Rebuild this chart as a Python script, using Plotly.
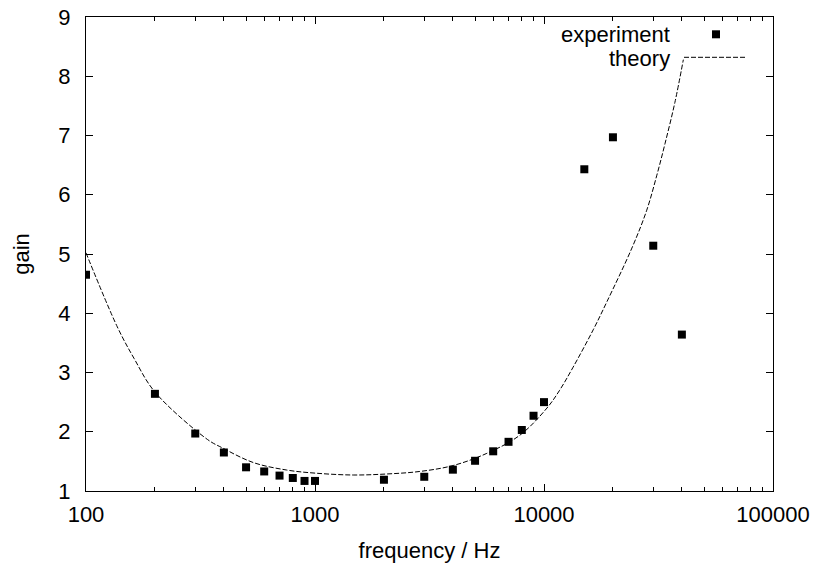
import plotly.graph_objects as go

# experiment data
exp_freq = [100, 200, 300, 400, 500, 600, 700, 800, 900, 1000, 2000, 3000, 4000,
            5000, 6000, 7000, 8000, 9000, 10000, 15000, 20000, 30000, 40000]
exp_gain = [4.65, 2.64, 1.97, 1.65, 1.40, 1.33, 1.26, 1.22, 1.17, 1.17, 1.19, 1.24, 1.36,
            1.51, 1.67, 1.83, 2.03, 2.27, 2.50, 6.43, 6.97, 5.14, 3.64]

# theory curve
th_freq = [100, 137, 162, 200, 339, 393, 538, 752, 1015, 1468, 2050, 2870, 4010,
           5630, 7860, 10300, 11700, 13400, 16400, 18800, 24200, 28100, 31100, 33800,
           37300, 40600]
th_gain = [5.02, 3.77, 3.24, 2.67, 1.87, 1.73, 1.48, 1.354, 1.30, 1.27, 1.287, 1.33, 1.43,
           1.636, 1.944, 2.40, 2.70, 3.09, 3.72, 4.19, 5.10, 5.74, 6.33, 6.87,
           7.56, 8.28]

legend_labels = ["experiment", "theory"]

FONT = "Liberation Sans, Arial, sans-serif"
FS = 22
W, H = 818, 568
L, R, T, B = 86, 45, 17, 77
PW, PH = W - L - R, H - T - B

def px(x):
    return (x - L) / PW

def py(y):
    return (T + PH - y) / PH

fig = go.Figure()
fig.add_trace(go.Scatter(
    x=th_freq, y=th_gain, mode="lines",
    line=dict(color="black", width=1, dash="5px,2px", shape="spline", smoothing=1),
    name=legend_labels[1], showlegend=False))
fig.add_trace(go.Scatter(
    x=exp_freq, y=exp_gain, mode="markers",
    marker=dict(symbol="square", size=8, color="black", line=dict(width=0)),
    name=legend_labels[0], showlegend=False))

axis_common = dict(
    showline=True, linecolor="black", linewidth=1, mirror="allticks",
    ticks="inside", ticklen=7, tickcolor="black", tickwidth=1,
    showgrid=False, zeroline=False,
    tickfont=dict(family=FONT, size=FS, color="black"),
)

fig.update_xaxes(type="log", range=[2, 5], tickvals=[100, 1000, 10000, 100000],
                 ticktext=["100", "1000", "10000", "100000"],
                 minor=dict(ticks="inside", ticklen=4, tickcolor="black", dtick="D1", showgrid=False),
                 title=dict(text="frequency / Hz", font=dict(family=FONT, size=FS, color="black"), standoff=16),
                 ticklabelstandoff=4,
                 **axis_common)
fig.update_yaxes(range=[1, 9], dtick=1, tick0=1,
                 title=dict(text="gain", font=dict(family=FONT, size=FS, color="black"), standoff=22),
                 ticklabelstandoff=10,
                 **axis_common)

# gnuplot-style key (text on the left, sample on the right)
fig.add_annotation(x=px(672), y=py(35), xref="paper", yref="paper", text=legend_labels[0],
                   xanchor="right", yanchor="middle", showarrow=False,
                   font=dict(family=FONT, size=FS, color="black"))
fig.add_annotation(x=px(672), y=py(58), xref="paper", yref="paper", text=legend_labels[1],
                   xanchor="right", yanchor="middle", showarrow=False,
                   font=dict(family=FONT, size=FS, color="black"))
fig.add_shape(type="rect", xref="paper", yref="paper", x0=px(712), x1=px(720), y0=py(38.3), y1=py(30.3),
              fillcolor="black", line=dict(width=0))
fig.add_shape(type="line", xref="paper", yref="paper", x0=px(684), x1=px(747), y0=py(57.3), y1=py(57.3),
              line=dict(color="black", width=1, dash="5px,2px"))

fig.update_layout(
    width=W, height=H, margin=dict(l=L, r=R, t=T, b=B, autoexpand=False),
    paper_bgcolor="white", plot_bgcolor="white", showlegend=False,
    font=dict(family=FONT, size=FS, color="black"),
)

fig.write_html("out.html")
